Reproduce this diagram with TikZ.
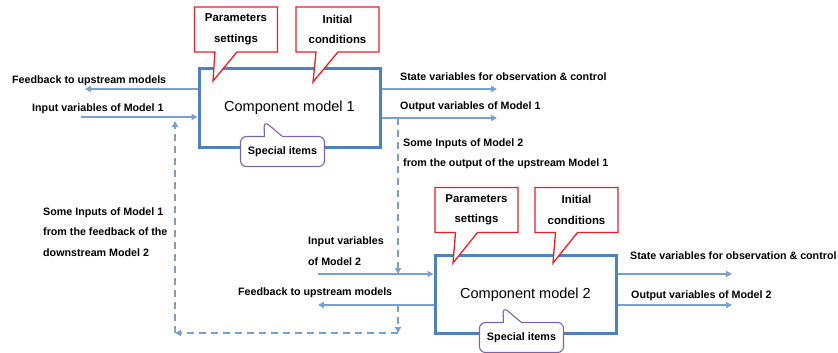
\documentclass[tikz,border=0pt]{standalone}
\usepackage{fontspec}
\setmainfont{Liberation Sans}
\usepackage{xcolor}
\usetikzlibrary{shapes.callouts,arrows.meta}
\definecolor{boxblue}{RGB}{79,129,189}
\definecolor{flowblue}{RGB}{122,160,206}
\definecolor{noteRed}{RGB}{232,30,40}
\definecolor{notePurple}{RGB}{128,100,162}

\begin{document}
\begin{tikzpicture}[x=1pt,y=-1pt,
    model/.style={draw=boxblue,line width=3pt,minimum width=181pt,minimum height=78pt,
      font=\fontsize{14.5}{16}\selectfont},
    setting/.style={rectangle callout,draw=noteRed,line width=1.3pt,fill=white,
      minimum width=83pt,minimum height=45pt,align=center,callout pointer width=22pt,
      font=\bfseries\fontsize{11.4}{20.5}\selectfont},
    special/.style={rectangle callout,rounded corners=6pt,draw=notePurple,line width=1.1pt,
      fill=white,minimum width=84pt,minimum height=30pt,callout pointer width=18pt,
      font=\bfseries\fontsize{10.8}{12}\selectfont},
    flow/.style={draw=flowblue,line width=1.8pt,-{Triangle[length=6pt,width=6pt]}},
    back/.style={flow,line width=2pt,dash pattern=on 7pt off 5pt},
    lbl/.style={font=\bfseries\fontsize{10.7}{20.5}\selectfont,inner sep=0pt,align=left,anchor=west}]
    \useasboundingbox (0,0) rectangle (838,353);

    % the two component models
    \node [model] (m1) at (289.5,108) {Component model 1};
    \node [model] (m2) at (525.5,294.5) {Component model 2};

    % free ends of the flows
    \coordinate (fb1) at (85,89);
    \coordinate (in1) at (81,117);
    \coordinate (st1) at (497,89);
    \coordinate (out1) at (497,118);
    \coordinate (in2) at (318,274);
    \coordinate (fb2) at (318,305);
    \coordinate (st2) at (732,274);
    \coordinate (out2) at (732,305);
    \coordinate (down1) at (398,118);
    \coordinate (down2) at (398,305);
    \coordinate (corner1) at (398,333);
    \coordinate (corner2) at (175,333);
    \coordinate (up1) at (175,121);

    \draw [flow] (m1.west |- fb1) -- (fb1);
    \draw [flow] (in1) -- (in1 -| m1.west);
    \draw [flow] (m1.east |- st1) -- (st1);
    \draw [flow] (m1.east |- out1) -- (out1);
    \draw [flow] (in2) -- (in2 -| m2.west);
    \draw [flow] (m2.west |- fb2) -- (fb2);
    \draw [flow] (m2.east |- st2) -- (st2);
    \draw [flow] (m2.east |- out2) -- (out2);

    % dashed links between the models
    \draw [back] (down1) -- (down1 |- in2);
    \draw [back] (down2) -- (corner1);
    \draw [back] (corner1) -- (corner2);
    \draw [back] (corner2) -- (up1);

    % callouts
    \node [setting,callout absolute pointer={(213,81)}] (par1) at (236,29.5) {Parameters\\settings};
    \node [setting,callout absolute pointer={(313,82)}] (init1) at (337.5,29.5) {Initial\\conditions};
    \node [special,callout absolute pointer={(264,121)}] (spec1) at (282.5,151.5) {Special items};
    \node [setting,callout absolute pointer={(453,263)}] (par2) at (476.5,210) {Parameters\\settings};
    \node [setting,callout absolute pointer={(553,263)}] (init2) at (576.5,210) {Initial\\conditions};
    \node [special,callout absolute pointer={(503,307)}] (spec2) at (521.5,337.5) {Special items};

    % labels
    \node [lbl] (fb1txt) at (12,81) {Feedback to upstream models};
    \node [lbl] (in1txt) at (32,109) {Input variables of Model 1};
    \node [lbl] (st1txt) at (400,77) {State variables for observation \& control};
    \node [lbl] (out1txt) at (400,107) {Output variables of Model 1};
    \node [lbl] (link1txt) at (403,153.5) {Some Inputs of Model 2\\from the output of the upstream Model 1};
    \node [lbl] (link2txt) at (43,232) {Some Inputs of Model 1\\from the feedback of the\\downstream Model 2};
    \node [lbl] (in2txt) at (308,251) {Input variables\\of Model 2};
    \node [lbl] (fb2txt) at (238,293) {Feedback to upstream models};
    \node [lbl] (st2txt) at (630,256) {State variables for observation \& control};
    \node [lbl] (out2txt) at (631,296) {Output variables of Model 2};
\end{tikzpicture}
\end{document}
